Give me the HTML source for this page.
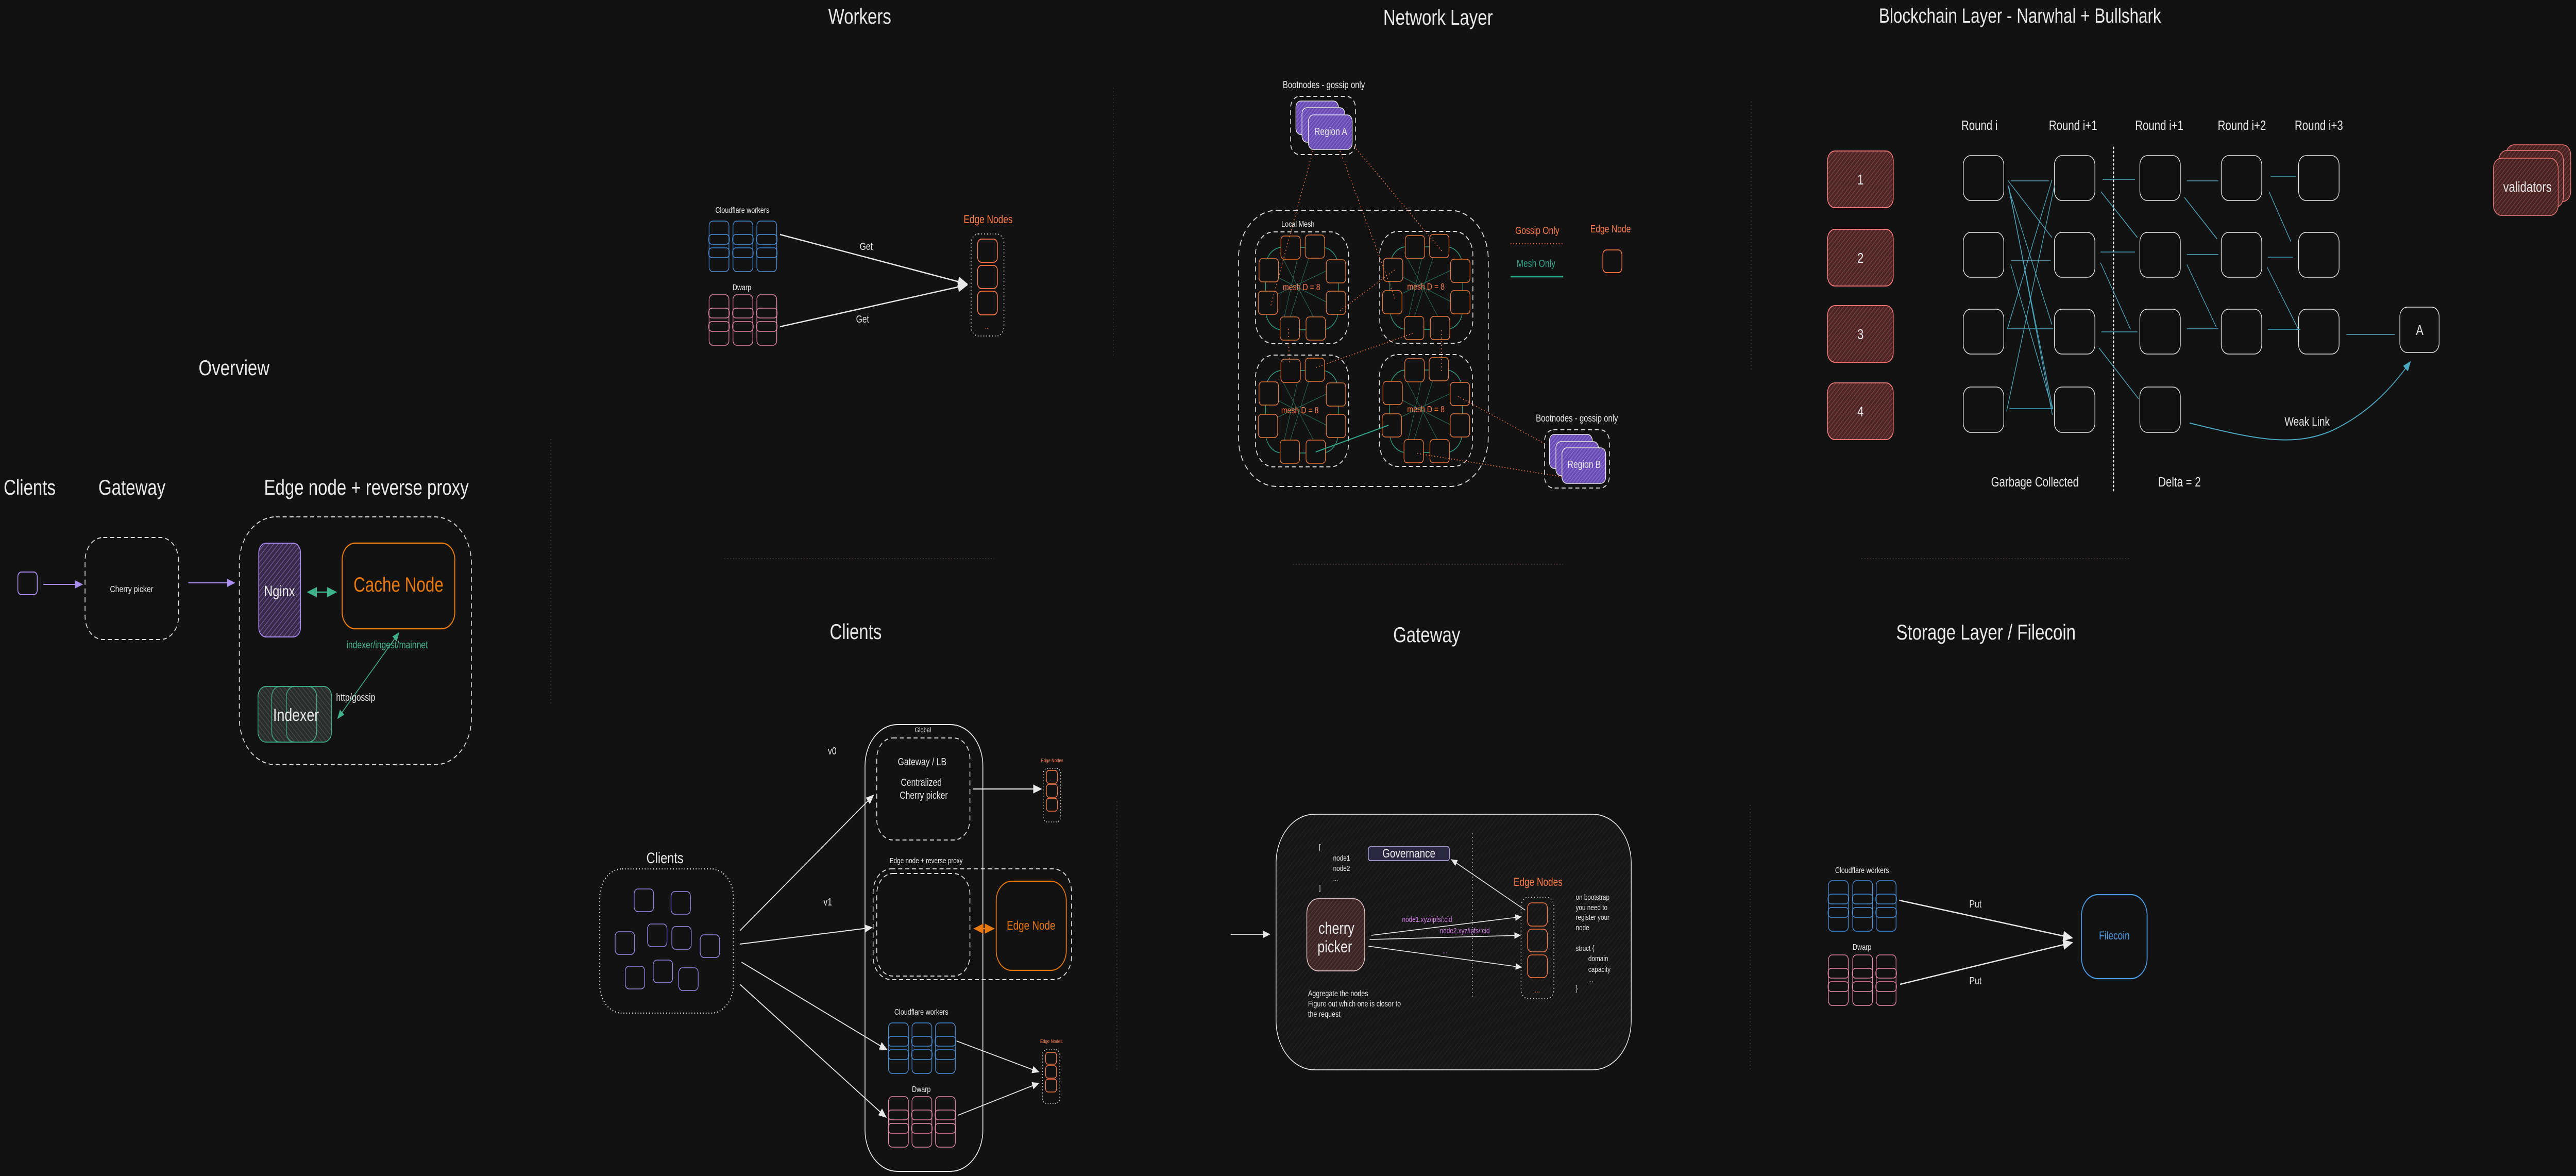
<!DOCTYPE html>
<html><head><meta charset="utf-8"><style>
html,body{margin:0;padding:0;background:#121212;overflow:hidden;width:100vw;height:100vh}
svg{display:block;width:100vw;height:100vh}
text{font-family:"Liberation Sans",sans-serif;fill:#e8e8e8}
</style></head><body>
<svg xmlns="http://www.w3.org/2000/svg" viewBox="0 0 6361 2282" preserveAspectRatio="none">
<defs>
<pattern id="hp" width="8" height="8" patternUnits="userSpaceOnUse" patternTransform="rotate(45)"><rect width="8" height="8" fill="#3a2a4a"/><line x1="0" y1="0" x2="0" y2="8" stroke="#8a6cc0" stroke-width="2"/></pattern>
<pattern id="hg" width="8" height="8" patternUnits="userSpaceOnUse" patternTransform="rotate(-45)"><rect width="8" height="8" fill="#2a2f2c"/><line x1="0" y1="0" x2="0" y2="8" stroke="#555" stroke-width="2"/></pattern>
<pattern id="hr" width="7" height="7" patternUnits="userSpaceOnUse" patternTransform="rotate(45)"><rect width="7" height="7" fill="#4a2626"/><line x1="0" y1="0" x2="0" y2="7" stroke="#9a4a4a" stroke-width="2"/></pattern>
<pattern id="hc" width="7" height="7" patternUnits="userSpaceOnUse" patternTransform="rotate(45)"><rect width="7" height="7" fill="#3a2626"/><line x1="0" y1="0" x2="0" y2="7" stroke="#6a4040" stroke-width="2"/></pattern>
<pattern id="hv" width="6" height="6" patternUnits="userSpaceOnUse" patternTransform="rotate(45)"><rect width="6" height="6" fill="#6a4cb4"/><line x1="0" y1="0" x2="0" y2="6" stroke="#9a80e0" stroke-width="2"/></pattern>
<pattern id="hb" width="8" height="8" patternUnits="userSpaceOnUse" patternTransform="rotate(45)"><rect width="8" height="8" fill="#161616"/><line x1="0" y1="0" x2="0" y2="8" stroke="#262626" stroke-width="2"/></pattern>
<marker id="aw" markerWidth="10" markerHeight="10" refX="9" refY="5" orient="auto" markerUnits="strokeWidth"><path d="M0,1 L10,5 L0,9 z" fill="#e8e8e8"/></marker>
<marker id="ap" markerWidth="10" markerHeight="10" refX="9" refY="5" orient="auto" markerUnits="strokeWidth"><path d="M0,1 L10,5 L0,9 z" fill="#a98ef0"/></marker>
<marker id="ag" markerWidth="10" markerHeight="10" refX="9" refY="5" orient="auto-start-reverse" markerUnits="strokeWidth"><path d="M0,1 L10,5 L0,9 z" fill="#3fb28a"/></marker>
<marker id="ao" markerWidth="10" markerHeight="10" refX="9" refY="5" orient="auto-start-reverse" markerUnits="strokeWidth"><path d="M0,1 L10,5 L0,9 z" fill="#e8790c"/></marker>
<marker id="at" markerWidth="10" markerHeight="10" refX="9" refY="5" orient="auto" markerUnits="strokeWidth"><path d="M0,1 L10,5 L0,9 z" fill="#4aa8c0"/></marker>
<g id="colB" fill="none" stroke="#4a90d9" stroke-width="1.6"><rect x="0" y="0" width="49" height="98" rx="9"/><rect x="-1" y="26" width="51" height="19" rx="8"/><rect x="-1" y="52" width="51" height="19" rx="8"/></g>
<g id="colP" fill="none" stroke="#e88aa8" stroke-width="1.6"><rect x="0" y="0" width="49" height="98" rx="9"/><rect x="-1" y="26" width="51" height="19" rx="8"/><rect x="-1" y="52" width="51" height="19" rx="8"/></g>
<g id="mesh">
<rect x="0" y="0" width="230" height="217" rx="45" fill="none" stroke="#ddd" stroke-width="2" stroke-dasharray="10 7"/>
<rect x="25" y="30" width="180" height="160" rx="40" fill="none" stroke="#2fa88a" stroke-width="1.5"/>
<g stroke="#2fa88a" stroke-width="1" opacity="0.7"><line x1="30" y1="130" x2="190" y2="70"/><line x1="80" y1="180" x2="140" y2="30"/><line x1="60" y1="40" x2="150" y2="175"/><line x1="35" y1="80" x2="185" y2="140"/><line x1="110" y1="30" x2="70" y2="170"/></g>
<g fill="#121212" stroke="#e8793a" stroke-width="1.6">
<rect x="63" y="8" width="48" height="45" rx="8"/><rect x="123" y="6" width="48" height="45" rx="8"/>
<rect x="9" y="52" width="48" height="45" rx="8"/><rect x="175" y="54" width="48" height="45" rx="8"/>
<rect x="7" y="115" width="48" height="45" rx="8"/><rect x="175" y="115" width="48" height="45" rx="8"/>
<rect x="61" y="165" width="48" height="45" rx="8"/><rect x="125" y="165" width="48" height="45" rx="8"/></g>
</g>
</defs>
<rect width="6361" height="2282" fill="#121212"/>

<g stroke="#4a3636" stroke-width="2" stroke-dasharray="2 5">
<line x1="2749" y1="170" x2="2749" y2="692"/><line x1="4324" y1="197" x2="4324" y2="719"/>
<line x1="1789" y1="1084" x2="2455" y2="1084"/><line x1="3193" y1="1095" x2="3859" y2="1095"/><line x1="4597" y1="1084" x2="5262" y2="1084"/>
<line x1="1360" y1="852" x2="1360" y2="1367"/><line x1="2758" y1="1555" x2="2758" y2="2077"/><line x1="4322" y1="1562" x2="4322" y2="2077"/>
</g>

<!-- OVERVIEW -->
<text x="578" y="728" font-size="42" text-anchor="middle">Overview</text>
<text x="9" y="960" font-size="42">Clients</text>
<text x="243" y="960" font-size="42">Gateway</text>
<text x="652" y="960" font-size="42">Edge node + reverse proxy</text>
<rect x="44" y="1110" width="48" height="44" rx="9" fill="none" stroke="#a98ef0" stroke-width="2"/>
<line x1="107" y1="1134" x2="203" y2="1134" stroke="#a98ef0" stroke-width="2" marker-end="url(#ap)"/>
<rect x="210" y="1043" width="231" height="198" rx="45" fill="none" stroke="#ddd" stroke-width="2" stroke-dasharray="10 7"/>
<text x="325" y="1149" font-size="18" text-anchor="middle">Cherry picker</text>
<line x1="465" y1="1131" x2="579" y2="1131" stroke="#a98ef0" stroke-width="2" marker-end="url(#ap)"/>
<rect x="591" y="1003" width="573" height="481" rx="90" fill="none" stroke="#ddd" stroke-width="2" stroke-dasharray="10 7"/>
<rect x="639" y="1054" width="103" height="182" rx="18" fill="url(#hp)" stroke="#a98ef0" stroke-width="2"/>
<text x="690" y="1157" font-size="30" text-anchor="middle">Nginx</text>
<rect x="845" y="1054" width="278" height="166" rx="32" fill="none" stroke="#e8790c" stroke-width="2.5"/>
<text x="984" y="1148" font-size="40" text-anchor="middle" style="fill:#e8790c">Cache Node</text>
<line x1="760" y1="1149" x2="830" y2="1149" stroke="#3fb28a" stroke-width="2.5" marker-start="url(#ag)" marker-end="url(#ag)"/>
<text x="956" y="1258" font-size="20" text-anchor="middle" style="fill:#3fb28a">indexer/ingest/mainnet</text>
<line x1="834" y1="1394" x2="985" y2="1228" stroke="#3fb28a" stroke-width="1.8" marker-start="url(#ag)" marker-end="url(#ag)"/>
<text x="830" y="1360" font-size="20">http/gossip</text>
<g fill="url(#hg)" stroke="#3fb28a" stroke-width="1.8"><rect x="637" y="1332" width="182" height="108" rx="20"/><rect x="671" y="1332" width="111" height="108" rx="20" opacity="0.9"/><rect x="707" y="1332" width="75" height="108" rx="20" opacity="0.9"/></g>
<text x="731" y="1399" font-size="34" text-anchor="middle">Indexer</text>

<!-- WORKERS -->
<text x="2123" y="46" font-size="42" text-anchor="middle">Workers</text>
<text x="1833" y="413" font-size="16" text-anchor="middle">Cloudflare workers</text>
<use href="#colB" x="1751" y="429"/><use href="#colB" x="1810" y="429"/><use href="#colB" x="1869" y="429"/>
<text x="1832" y="563" font-size="16" text-anchor="middle">Dwarp</text>
<use href="#colP" x="1751" y="572"/><use href="#colP" x="1810" y="572"/><use href="#colP" x="1869" y="572"/>
<line x1="1926" y1="455" x2="2388" y2="551" stroke="#e8e8e8" stroke-width="2.5" marker-end="url(#aw)"/>
<line x1="1926" y1="634" x2="2388" y2="553" stroke="#e8e8e8" stroke-width="2.5" marker-end="url(#aw)"/>
<text x="2139" y="485" font-size="20" text-anchor="middle">Get</text>
<text x="2130" y="626" font-size="20" text-anchor="middle">Get</text>
<text x="2440" y="433" font-size="22" text-anchor="middle" style="fill:#ff7a45">Edge Nodes</text>
<rect x="2398" y="454" width="81" height="198" rx="18" fill="none" stroke="#ddd" stroke-width="2" stroke-dasharray="2 5"/>
<g fill="none" stroke="#ff7a45" stroke-width="1.8"><rect x="2414" y="464" width="49" height="45" rx="10"/><rect x="2414" y="515" width="49" height="45" rx="10"/><rect x="2414" y="565" width="49" height="46" rx="10"/></g>
<text x="2438" y="638" font-size="14" text-anchor="middle" style="fill:#ff7a45">...</text>

<!-- NETWORK LAYER -->
<text x="3551" y="48" font-size="42" text-anchor="middle">Network Layer</text>
<text x="3269" y="171" font-size="19" text-anchor="middle">Bootnodes - gossip only</text>
<rect x="3187" y="187" width="160" height="113" rx="22" fill="none" stroke="#ddd" stroke-width="2" stroke-dasharray="10 7"/>
<g fill="url(#hv)" stroke="#e8e8e8" stroke-width="1.6"><rect x="3200" y="196" width="105" height="65" rx="12"/><rect x="3215" y="209" width="106" height="67" rx="12"/><rect x="3231" y="223" width="108" height="67" rx="12"/></g>
<text x="3286" y="262" font-size="20" text-anchor="middle">Region A</text>
<rect x="3058" y="408" width="617" height="536" rx="95" fill="none" stroke="#ddd" stroke-width="2" stroke-dasharray="12 8"/>
<text x="3205" y="440" font-size="16" text-anchor="middle">Local Mesh</text>
<use href="#mesh" x="3100" y="450"/><use href="#mesh" x="3407" y="449"/><use href="#mesh" x="3100" y="689"/><use href="#mesh" x="3406" y="688"/>
<g font-size="18" text-anchor="middle"><text x="3214" y="563" style="fill:#ff7a45">mesh D = 8</text><text x="3521" y="562" style="fill:#ff7a45">mesh D = 8</text><text x="3210" y="802" style="fill:#ff7a45">mesh D = 8</text><text x="3521" y="800" style="fill:#ff7a45">mesh D = 8</text></g>
<g stroke="#ff7a45" stroke-width="1.8" stroke-dasharray="2 5" fill="none">
<line x1="3242" y1="293" x2="3137" y2="596"/><line x1="3309" y1="293" x2="3445" y2="580"/><line x1="3344" y1="284" x2="3561" y2="488"/>
<line x1="3309" y1="603" x2="3445" y2="523"/><line x1="3181" y1="638" x2="3184" y2="708"/><line x1="3488" y1="647" x2="3246" y2="714"/>
<line x1="3559" y1="641" x2="3559" y2="721"/><line x1="3600" y1="769" x2="3819" y2="863"/><line x1="3500" y1="880" x2="3856" y2="925"/>
<line x1="3730" y1="473" x2="3860" y2="473"/></g>
<line x1="3249" y1="877" x2="3429" y2="825" stroke="#2fa88a" stroke-width="2"/>
<text x="3796" y="454" font-size="20" text-anchor="middle" style="fill:#ff7a45">Gossip Only</text>
<text x="3793" y="518" font-size="20" text-anchor="middle" style="fill:#2fa88a">Mesh Only</text>
<line x1="3730" y1="537" x2="3860" y2="537" stroke="#2fa88a" stroke-width="2.5"/>
<text x="3977" y="451" font-size="20" text-anchor="middle" style="fill:#ff7a45">Edge Node</text>
<rect x="3958" y="485" width="47" height="44" rx="9" fill="none" stroke="#ff7a45" stroke-width="1.8"/>
<text x="3894" y="818" font-size="19" text-anchor="middle">Bootnodes - gossip only</text>
<rect x="3814" y="834" width="160" height="113" rx="22" fill="none" stroke="#ddd" stroke-width="2" stroke-dasharray="10 7"/>
<g fill="url(#hv)" stroke="#e8e8e8" stroke-width="1.6"><rect x="3826" y="843" width="106" height="66" rx="12"/><rect x="3842" y="857" width="105" height="66" rx="12"/><rect x="3857" y="869" width="108" height="69" rx="12"/></g>
<text x="3912" y="908" font-size="20" text-anchor="middle">Region B</text>

<!-- BLOCKCHAIN -->
<text x="4988" y="44" font-size="40" text-anchor="middle">Blockchain Layer - Narwhal + Bullshark</text>
<g font-size="26" text-anchor="middle"><text x="4888" y="252">Round i</text><text x="5119" y="252">Round i+1</text><text x="5332" y="252">Round i+1</text><text x="5536" y="252">Round i+2</text><text x="5726" y="252">Round i+3</text></g>
<g fill="url(#hr)" stroke="#ff8080" stroke-width="1.8"><rect x="4513" y="293" width="162" height="110" rx="18"/><rect x="4513" y="445" width="162" height="110" rx="18"/><rect x="4513" y="593" width="162" height="110" rx="18"/><rect x="4513" y="743" width="162" height="110" rx="18"/></g>
<g font-size="28" text-anchor="middle"><text x="4594" y="358">1</text><text x="4594" y="510">2</text><text x="4594" y="658">3</text><text x="4594" y="808">4</text></g>
<g fill="none" stroke="#e8e8e8" stroke-width="1.6">
<rect x="4848" y="302" width="100" height="87" rx="18"/><rect x="4848" y="451" width="100" height="87" rx="18"/><rect x="4848" y="600" width="100" height="87" rx="18"/><rect x="4848" y="751" width="100" height="88" rx="18"/>
<rect x="5073" y="302" width="100" height="87" rx="18"/><rect x="5073" y="451" width="100" height="87" rx="18"/><rect x="5073" y="600" width="100" height="87" rx="18"/><rect x="5073" y="751" width="100" height="88" rx="18"/>
<rect x="5284" y="302" width="100" height="87" rx="18"/><rect x="5284" y="451" width="100" height="87" rx="18"/><rect x="5284" y="600" width="100" height="87" rx="18"/><rect x="5284" y="751" width="100" height="88" rx="18"/>
<rect x="5485" y="302" width="100" height="87" rx="18"/><rect x="5485" y="451" width="100" height="87" rx="18"/><rect x="5485" y="600" width="100" height="87" rx="18"/>
<rect x="5676" y="302" width="100" height="87" rx="18"/><rect x="5676" y="451" width="100" height="87" rx="18"/><rect x="5676" y="600" width="100" height="87" rx="18"/>
<rect x="5926" y="596" width="97" height="88" rx="18"/></g>
<text x="5975" y="650" font-size="28" text-anchor="middle">A</text>
<line x1="5219" y1="286" x2="5219" y2="957" stroke="#e8e8e8" stroke-width="3" stroke-dasharray="2 6" stroke-linecap="round"/>
<g stroke="#4aa8c0" stroke-width="1.6">
<line x1="4965" y1="351" x2="5060" y2="351"/><line x1="4966" y1="505" x2="5064" y2="505"/><line x1="4957" y1="638" x2="5070" y2="638"/><line x1="4962" y1="793" x2="5069" y2="793"/>
<line x1="4958" y1="350" x2="5067" y2="461"/><line x1="4958" y1="360" x2="5067" y2="630"/><line x1="4959" y1="360" x2="5069" y2="794"/><line x1="4961" y1="364" x2="5068" y2="805"/>
<line x1="4957" y1="638" x2="5067" y2="349"/><line x1="4955" y1="798" x2="5073" y2="360"/><line x1="4965" y1="513" x2="5068" y2="794"/>
<line x1="5192" y1="348" x2="5272" y2="348"/><line x1="5187" y1="489" x2="5272" y2="489"/><line x1="5189" y1="644" x2="5278" y2="644"/>
<line x1="5188" y1="372" x2="5278" y2="461"/><line x1="5187" y1="510" x2="5261" y2="639"/><line x1="5183" y1="675" x2="5281" y2="774"/>
<line x1="5400" y1="351" x2="5478" y2="351"/><line x1="5400" y1="494" x2="5478" y2="494"/><line x1="5400" y1="638" x2="5478" y2="638"/>
<line x1="5394" y1="383" x2="5475" y2="464"/><line x1="5400" y1="513" x2="5473" y2="635"/>
<line x1="5607" y1="342" x2="5669" y2="342"/><line x1="5600" y1="499" x2="5662" y2="499"/><line x1="5600" y1="639" x2="5680" y2="639"/>
<line x1="5603" y1="372" x2="5657" y2="469"/><line x1="5598" y1="518" x2="5676" y2="640"/>
<line x1="5794" y1="649" x2="5913" y2="649"/></g>
<path d="M5407,821 C5560,850 5660,870 5760,835 C5840,805 5900,760 5952,702" fill="none" stroke="#4aa8c0" stroke-width="2" marker-end="url(#at)"/>
<text x="5697" y="826" font-size="24" text-anchor="middle">Weak Link</text>
<text x="5025" y="944" font-size="26" text-anchor="middle">Garbage Collected</text>
<text x="5382" y="944" font-size="26" text-anchor="middle">Delta = 2</text>
<g fill="url(#hr)" stroke="#ff8080" stroke-width="1.6" opacity="0.95"><rect x="6188" y="281" width="160" height="110" rx="20"/><rect x="6170" y="292" width="160" height="110" rx="20"/><rect x="6157" y="307" width="160" height="111" rx="20"/></g>
<text x="6241" y="372" font-size="28" text-anchor="middle">validators</text>

<!-- CLIENTS -->
<text x="2113" y="1240" font-size="42" text-anchor="middle">Clients</text>
<rect x="2136" y="1406" width="291" height="867" rx="80" fill="none" stroke="#e8e8e8" stroke-width="2"/>
<text x="2279" y="1421" font-size="14" text-anchor="middle">Global</text>
<rect x="2165" y="1432" width="230" height="198" rx="40" fill="none" stroke="#ddd" stroke-width="2" stroke-dasharray="10 7"/>
<text x="2277" y="1485" font-size="20" text-anchor="middle">Gateway / LB</text>
<text x="2275" y="1525" font-size="20" text-anchor="middle">Centralized</text>
<text x="2281" y="1550" font-size="20" text-anchor="middle">Cherry picker</text>
<text x="2055" y="1464" font-size="20" text-anchor="middle">v0</text>
<text x="2044" y="1757" font-size="20" text-anchor="middle">v1</text>
<text x="2598" y="1479" font-size="10" text-anchor="middle" style="fill:#ff7a45">Edge Nodes</text>
<rect x="2576" y="1491" width="43" height="104" rx="10" fill="none" stroke="#ddd" stroke-width="1.6" stroke-dasharray="2 4"/>
<g fill="none" stroke="#ff7a45" stroke-width="1.5"><rect x="2584" y="1495" width="27" height="25" rx="6"/><rect x="2584" y="1522" width="27" height="25" rx="6"/><rect x="2584" y="1549" width="27" height="25" rx="6"/></g>
<line x1="2402" y1="1531" x2="2571" y2="1531" stroke="#e8e8e8" stroke-width="2.2" marker-end="url(#aw)"/>
<text x="2287" y="1675" font-size="15" text-anchor="middle">Edge node + reverse proxy</text>
<rect x="2156" y="1686" width="490" height="215" rx="45" fill="none" stroke="#ddd" stroke-width="2" stroke-dasharray="10 7"/>
<rect x="2165" y="1695" width="230" height="199" rx="40" fill="none" stroke="#ddd" stroke-width="2" stroke-dasharray="10 7"/>
<rect x="2460" y="1710" width="173" height="173" rx="38" fill="none" stroke="#e8790c" stroke-width="2.2"/>
<text x="2546" y="1804" font-size="24" text-anchor="middle" style="fill:#e8790c">Edge Node</text>
<line x1="2406" y1="1802" x2="2454" y2="1802" stroke="#e8790c" stroke-width="2.5" marker-start="url(#ao)" marker-end="url(#ao)"/>
<rect x="1481" y="1686" width="330" height="280" rx="55" fill="none" stroke="#ddd" stroke-width="2.5" stroke-dasharray="2 5"/>
<text x="1642" y="1675" font-size="30" text-anchor="middle">Clients</text>
<g fill="none" stroke="#9d86e8" stroke-width="1.6"><rect x="1566" y="1725" width="48" height="44" rx="9"/><rect x="1657" y="1730" width="48" height="44" rx="9"/><rect x="1519" y="1808" width="48" height="44" rx="9"/><rect x="1599" y="1793" width="48" height="44" rx="9"/><rect x="1659" y="1798" width="48" height="44" rx="9"/><rect x="1729" y="1814" width="48" height="44" rx="9"/><rect x="1544" y="1875" width="48" height="44" rx="9"/><rect x="1613" y="1863" width="48" height="44" rx="9"/><rect x="1676" y="1878" width="48" height="44" rx="9"/></g>
<g stroke="#e8e8e8" stroke-width="2"><line x1="1827" y1="1806" x2="2157" y2="1543" marker-end="url(#aw)"/><line x1="1827" y1="1832" x2="2153" y2="1800" marker-end="url(#aw)"/><line x1="1831" y1="1867" x2="2190" y2="2037" marker-end="url(#aw)"/><line x1="1827" y1="1910" x2="2188" y2="2168" marker-end="url(#aw)"/></g>
<text x="2275" y="1969" font-size="16" text-anchor="middle">Cloudflare workers</text>
<use href="#colB" x="2194" y="1985"/><use href="#colB" x="2252" y="1985"/><use href="#colB" x="2310" y="1985"/>
<text x="2275" y="2119" font-size="16" text-anchor="middle">Dwarp</text>
<use href="#colP" x="2194" y="2128"/><use href="#colP" x="2252" y="2128"/><use href="#colP" x="2310" y="2128"/>
<text x="2596" y="2024" font-size="10" text-anchor="middle" style="fill:#ff7a45">Edge Nodes</text>
<rect x="2574" y="2037" width="43" height="104" rx="10" fill="none" stroke="#ddd" stroke-width="1.6" stroke-dasharray="2 4"/>
<g fill="none" stroke="#ff7a45" stroke-width="1.5"><rect x="2582" y="2042" width="27" height="23" rx="6"/><rect x="2582" y="2068" width="27" height="24" rx="6"/><rect x="2582" y="2094" width="27" height="25" rx="6"/></g>
<g stroke="#e8e8e8" stroke-width="1.8"><line x1="2362" y1="2020" x2="2565" y2="2080" marker-end="url(#aw)"/><line x1="2366" y1="2164" x2="2565" y2="2102" marker-end="url(#aw)"/></g>

<!-- GATEWAY -->
<text x="3523" y="1246" font-size="42" text-anchor="middle">Gateway</text>
<rect x="3151" y="1580" width="877" height="496" rx="95" fill="url(#hb)" stroke="#e8e8e8" stroke-width="1.8"/>
<g font-size="15"><text x="3257" y="1649">[</text><text x="3292" y="1670">node1</text><text x="3292" y="1690">node2</text><text x="3292" y="1709">...</text><text x="3257" y="1728">]</text></g>
<rect x="3379" y="1643" width="200" height="27" rx="5" fill="#2a2840" stroke="#b8b0f0" stroke-width="1.6"/>
<text x="3479" y="1664" font-size="24" text-anchor="middle">Governance</text>
<line x1="3636" y1="1617" x2="3636" y2="1935" stroke="#ddd" stroke-width="1.5" stroke-dasharray="2 5"/>
<text x="3798" y="1719" font-size="22" text-anchor="middle" style="fill:#ff7a45">Edge Nodes</text>
<rect x="3756" y="1741" width="81" height="197" rx="18" fill="none" stroke="#ddd" stroke-width="1.8" stroke-dasharray="2 5"/>
<g fill="none" stroke="#ff7a45" stroke-width="1.6"><rect x="3772" y="1752" width="49" height="45" rx="10"/><rect x="3772" y="1803" width="49" height="44" rx="10"/><rect x="3772" y="1853" width="49" height="44" rx="10"/></g>
<text x="3796" y="1926" font-size="16" text-anchor="middle" style="fill:#ff7a45">...</text>
<rect x="3227" y="1744" width="143" height="140" rx="28" fill="url(#hc)" stroke="#e8c8c8" stroke-width="1.8"/>
<text x="3300" y="1812" font-size="32" text-anchor="middle">cherry</text>
<text x="3296" y="1848" font-size="32" text-anchor="middle">picker</text>
<g font-size="16"><text x="3230" y="1933">Aggregate the nodes</text><text x="3230" y="1953">Figure out which one is closer to</text><text x="3230" y="1973">the request</text></g>
<g font-size="15"><text x="3891" y="1746">on bootstrap</text><text x="3891" y="1766">you need to</text><text x="3891" y="1785">register your</text><text x="3891" y="1805">node</text><text x="3891" y="1845">struct {</text><text x="3922" y="1865">domain</text><text x="3922" y="1886">capacity</text><text x="3922" y="1906">...</text><text x="3891" y="1923">}</text></g>
<line x1="3039" y1="1813" x2="3135" y2="1813" stroke="#e8e8e8" stroke-width="1.8" marker-end="url(#aw)"/>
<g stroke="#e8e8e8" stroke-width="1.6"><line x1="3386" y1="1815" x2="3756" y2="1779" marker-end="url(#aw)"/><line x1="3382" y1="1823" x2="3754" y2="1815" marker-end="url(#aw)"/><line x1="3379" y1="1836" x2="3757" y2="1877" marker-end="url(#aw)"/><line x1="3766" y1="1766" x2="3584" y2="1668" marker-end="url(#aw)"/></g>
<text x="3524" y="1789" font-size="15" text-anchor="middle" style="fill:#d67fea">node1.xyz/ipfs/:cid</text>
<text x="3617" y="1811" font-size="15" text-anchor="middle" style="fill:#d67fea">node2.xyz/ipfs/:cid</text>
<text x="3568" y="1850" font-size="14" text-anchor="middle" style="fill:#d67fea">...</text>

<!-- STORAGE -->
<text x="4904" y="1241" font-size="42" text-anchor="middle">Storage Layer / Filecoin</text>
<text x="4598" y="1694" font-size="16" text-anchor="middle">Cloudflare workers</text>
<use href="#colB" x="4515" y="1709"/><use href="#colB" x="4575" y="1709"/><use href="#colB" x="4633" y="1709"/>
<text x="4598" y="1843" font-size="16" text-anchor="middle">Dwarp</text>
<use href="#colP" x="4515" y="1853"/><use href="#colP" x="4575" y="1853"/><use href="#colP" x="4633" y="1853"/>
<rect x="5140" y="1736" width="162" height="163" rx="40" fill="none" stroke="#4a9be8" stroke-width="2.2"/>
<text x="5221" y="1823" font-size="22" text-anchor="middle" style="fill:#4a9be8">Filecoin</text>
<g stroke="#e8e8e8" stroke-width="2.5"><line x1="4690" y1="1747" x2="5117" y2="1820" marker-end="url(#aw)"/><line x1="4692" y1="1910" x2="5117" y2="1829" marker-end="url(#aw)"/></g>
<text x="4878" y="1761" font-size="20" text-anchor="middle">Put</text>
<text x="4878" y="1910" font-size="20" text-anchor="middle">Put</text>
</svg>
</body></html>
